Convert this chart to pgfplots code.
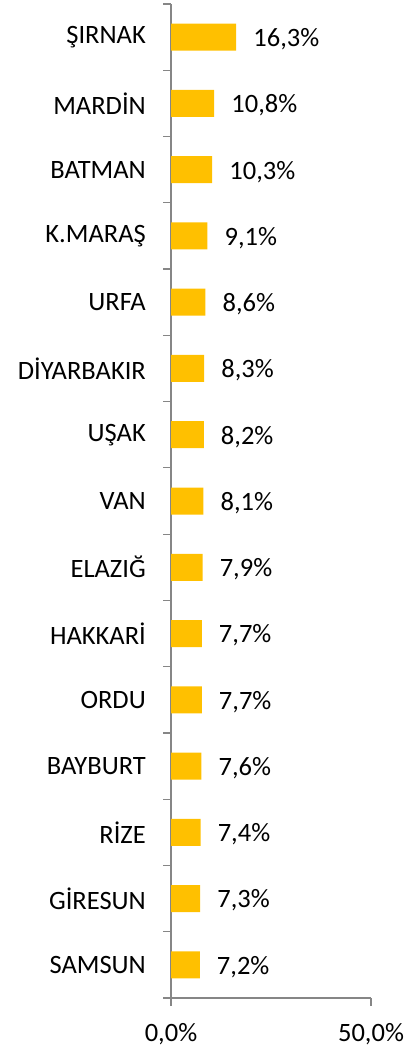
\documentclass[border=0pt]{standalone}
\usepackage{pgfplots}
\pgfplotsset{compat=1.18}
\usepackage{fontspec}
\setmainfont{Carlito}
\definecolor{barc}{HTML}{FFC000}
\definecolor{axc}{HTML}{868686}
\newcommand{\lblfont}{\fontsize{26.5bp}{30bp}\selectfont}
\begin{document}
\begin{tikzpicture}
\useasboundingbox (0,0) rectangle (413bp,1046bp);
\begin{axis}[
  at={(171bp,48bp)}, anchor=south west,
  scale only axis, width=200bp, height=994bp,
  xbar, bar width=27bp,
  xmin=0, xmax=50, ymin=0.5, ymax=15.5, y dir=reverse,
  axis x line*=bottom, axis y line*=left,
  axis line style={draw=axc, line width=1.2bp},
  tick style={draw=axc, line width=1.2bp},
  tick align=outside, major tick length=8bp,
  /pgf/number format/assume math mode=true,
  xtick={0,50}, xticklabels={{0,0\%},{50,0\%}},
  ytick={0.5,1.5,...,15.5},
  yticklabels={ŞIRNAK,MARDİN,BATMAN,K.MARAŞ,URFA,DİYARBAKIR,UŞAK,VAN,ELAZIĞ,HAKKARİ,ORDU,BAYBURT,RİZE,GİRESUN,SAMSUN,{}},
  yticklabel style={yshift=-33.13bp, font=\lblfont, inner sep=0pt, xshift=-17bp},
  xticklabel style={font=\lblfont, inner sep=0pt, yshift=-17bp},
  nodes near coords={\pgfmathprintnumber[fixed,zerofill,precision=1,use comma]{\pgfplotspointmeta}\%},
  nodes near coords style={font=\lblfont, inner sep=0pt, xshift=17bp, yshift=-2bp, anchor=west},
  point meta=x,
  clip=false,
]
\addplot[fill=barc, draw=none] coordinates {
(16.3,1) (10.8,2) (10.3,3) (9.1,4) (8.6,5) (8.3,6) (8.2,7) (8.1,8)
(7.9,9) (7.7,10) (7.7,11) (7.6,12) (7.4,13) (7.3,14) (7.2,15)};
\end{axis}
\end{tikzpicture}
\end{document}
